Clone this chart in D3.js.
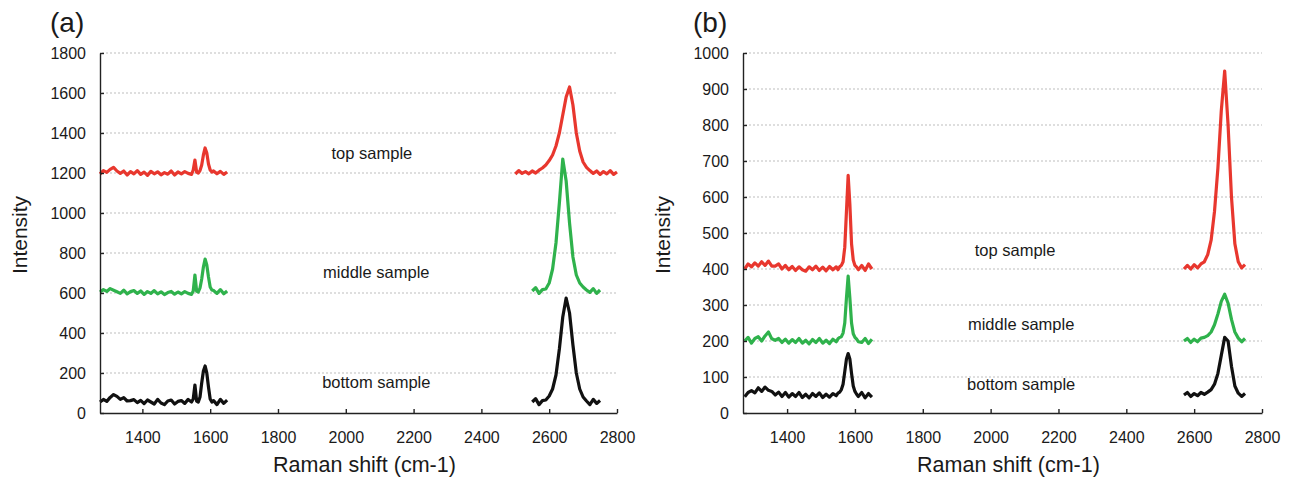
<!DOCTYPE html>
<html lang="en">
<head>
    <meta charset="UTF-8">
    <title>Raman spectra (a) and (b)</title>
    <script src="https://d3js.org/d3.v7.min.js"></script>
    <style>
        body { margin: 0; background: #fff; }
        svg text { font-family: "Liberation Sans", Arial, sans-serif; fill: #1a1a1a; }
        .grid line { stroke: #bdbdbd; stroke-width: 1; stroke-dasharray: 2,2; }
        .axis path, .axis line { stroke: #222; stroke-width: 1.4; }
        .axis text { font-size: 16px; }
    </style>
</head>
<body>
    <svg width="1292" height="477"></svg>

    <script>
        // tick labels
        const ticksX = [1400, 1600, 1800, 2000, 2200, 2400, 2600, 2800];
        const ticksYa = [0, 200, 400, 600, 800, 1000, 1200, 1400, 1600, 1800];
        const ticksYb = [0, 100, 200, 300, 400, 500, 600, 700, 800, 900, 1000];

        // x grid for the G band part (cm-1)
        const gX = [1275, 1285, 1295, 1305, 1315, 1325, 1335, 1345, 1355, 1365,
                    1375, 1385, 1395, 1405, 1415, 1425, 1435, 1445, 1455, 1465,
                    1475, 1485, 1495, 1505, 1515, 1525, 1535, 1545,
                    1550, 1555, 1560, 1565, 1570, 1575, 1580, 1585, 1590, 1595, 1600, 1605, 1610,
                    1620, 1630, 1640, 1650];
        // x grids for the 2D band part
        const dXwide = [2500, 2510, 2520, 2530, 2540, 2550, 2560, 2570, 2580, 2590, 2600,
                        2610, 2620, 2630, 2640, 2650, 2660, 2670, 2680, 2690, 2700,
                        2710, 2720, 2730, 2740, 2750, 2760, 2770, 2780, 2790, 2800];
        const dXmid = [2550, 2560, 2570, 2580, 2590, 2600, 2610, 2620, 2630, 2640, 2650,
                       2660, 2670, 2680, 2690, 2700, 2710, 2720, 2730, 2740, 2750];
        const dXb = [2570, 2580, 2590, 2600, 2610, 2620, 2630, 2640, 2650, 2660,
                     2670, 2680, 2690, 2700, 2710, 2720, 2730, 2740, 2750];

        // panel (a) intensities
        const aTopG = [1195, 1212, 1203, 1218, 1228, 1210, 1198, 1210, 1190, 1207,
                       1196, 1212, 1193, 1204, 1188, 1208, 1196, 1206, 1191, 1202,
                       1194, 1210, 1190, 1205, 1196, 1207, 1198, 1193,
                       1215, 1265, 1205, 1200, 1212, 1240, 1290, 1325, 1300, 1245, 1215, 1205, 1210,
                       1196, 1208, 1193, 1205];
        const aMidG = [605, 617, 608, 622, 614, 606, 598, 614, 596, 607,
                       612, 598, 610, 593, 607, 598, 612, 596, 606, 592,
                       602, 608, 594, 605, 596, 607, 598, 593,
                       610, 690, 610, 605, 625, 670, 730, 770, 740, 680, 630, 615, 612,
                       598, 617, 596, 610];
        const aBotG = [55, 68, 58, 78, 92, 83, 68, 77, 60, 62,
                       67, 52, 63, 47, 65, 55, 45, 68, 50, 42,
                       60, 65, 45, 58, 62, 48, 68, 55,
                       70, 140, 60, 55, 80, 150, 210, 235, 200, 130, 70, 55, 62,
                       42, 68, 48, 64];
        const aTop2D = [1195, 1212, 1198, 1207, 1196, 1210, 1200, 1214, 1225, 1240, 1262,
                        1290, 1335, 1400, 1490, 1580, 1630, 1540, 1400, 1310, 1255,
                        1228, 1212, 1198, 1210, 1193, 1207, 1196, 1212, 1193, 1205];
        const aMid2D = [610, 627, 598, 617, 620, 650, 720, 850, 1050, 1270, 1160,
                        950, 780, 690, 650, 630, 615, 603, 622, 598, 615];
        const aBot2D = [55, 72, 42, 62, 65, 85, 120, 190, 320, 480, 575,
                        500, 340, 200, 120, 80, 60, 42, 68, 48, 62];

        // panel (b) intensities
        const bTopG = [400, 414, 406, 417, 408, 420, 410, 422, 408, 408,
                       414, 400, 410, 398, 407, 396, 406, 398, 394, 406,
                       398, 408, 396, 405, 395, 407, 398, 406,
                       398, 406, 410, 420, 460, 560, 660, 580, 470, 425, 410, 405, 398,
                       410, 396, 414, 400];
        const bMidG = [200, 210, 194, 207, 212, 200, 214, 225, 206, 202,
                       207, 196, 205, 194, 204, 196, 207, 194, 202, 192,
                       204, 196, 207, 194, 202, 193, 205, 198,
                       206, 210, 212, 222, 250, 320, 380, 320, 250, 220, 210, 205, 198,
                       196, 207, 193, 205];
        const bBotG = [45, 57, 62, 56, 70, 60, 72, 63, 60, 50,
                       58, 46, 57, 44, 54, 46, 57, 43, 52, 42,
                       54, 46, 56, 43, 52, 44, 54, 48,
                       55, 58, 65, 80, 115, 150, 165, 150, 110, 75, 60, 52, 46,
                       57, 42, 54, 44];
        const bTop2D = [400, 410, 400, 412, 403, 414, 420, 440, 480, 560,
                        680, 840, 950, 800, 600, 470, 420, 403, 412];
        const bMid2D = [200, 207, 196, 205, 198, 208, 210, 215, 225, 245,
                        275, 310, 330, 305, 260, 225, 208, 198, 207];
        const bBot2D = [50, 57, 46, 54, 48, 57, 52, 58, 65, 80,
                        110, 160, 210, 200, 130, 75, 55, 46, 54];

        const red = "#e8372e", green = "#2fb24c", black = "#111111";

        const panels = [
            {
                tag: "(a)", tagX: 50, left: 100, right: 617, domX: [1275, 2800],
                domY: [0, 1800], ticksY: ticksYa,
                series: [
                    { x: gX, y: aTopG, c: red }, { x: dXwide, y: aTop2D, c: red },
                    { x: gX, y: aMidG, c: green }, { x: dXmid, y: aMid2D, c: green },
                    { x: gX, y: aBotG, c: black }, { x: dXmid, y: aBot2D, c: black }
                ],
                labels: [
                    { t: "top sample", x: 2077, y: 1270 },
                    { t: "middle sample", x: 2090, y: 675 },
                    { t: "bottom sample", x: 2090, y: 125 }
                ]
            },
            {
                tag: "(b)", tagX: 693, left: 743, right: 1262, domX: [1270, 2800],
                domY: [0, 1000], ticksY: ticksYb,
                series: [
                    { x: gX, y: bTopG, c: red }, { x: dXb, y: bTop2D, c: red },
                    { x: gX, y: bMidG, c: green }, { x: dXb, y: bMid2D, c: green },
                    { x: gX, y: bBotG, c: black }, { x: dXb, y: bBot2D, c: black }
                ],
                labels: [
                    { t: "top sample", x: 2072, y: 436 },
                    { t: "middle sample", x: 2090, y: 230 },
                    { t: "bottom sample", x: 2090, y: 64 }
                ]
            }
        ];

        const svg = d3.select("svg");
        const plotTop = 53, plotBottom = 413;
        const fmt = d3.format("d");

        panels.forEach(p => {
            const x = d3.scaleLinear().domain(p.domX).range([p.left, p.right]);
            const y = d3.scaleLinear().domain(p.domY).range([plotBottom, plotTop]);
            const g = svg.append("g");

            // dotted grid lines
            g.append("g").attr("class", "grid")
                .selectAll("line")
                .data(p.ticksY.filter(v => v > 0))
                .enter().append("line")
                .attr("x1", p.left + 2).attr("x2", p.right)
                .attr("y1", d => y(d)).attr("y2", d => y(d));

            // spectra
            const line = d3.line().x(d => x(d[0])).y(d => y(d[1]));
            p.series.forEach(s => {
                g.append("path")
                    .datum(d3.zip(s.x, s.y))
                    .attr("d", line)
                    .attr("fill", "none")
                    .attr("stroke", s.c)
                    .attr("stroke-width", 3.2)
                    .attr("stroke-linejoin", "round");
            });

            // axes
            const ax = g.append("g").attr("class", "axis")
                .attr("transform", `translate(0,${plotBottom})`)
                .call(d3.axisBottom(x).tickValues(ticksX).tickFormat(fmt)
                    .tickSizeInner(-4).tickSizeOuter(0).tickPadding(15));
            ax.selectAll("text").attr("dy", "0.95em");

            g.append("g").attr("class", "axis")
                .attr("transform", `translate(${p.left},0)`)
                .call(d3.axisLeft(y).tickValues(p.ticksY).tickFormat(fmt)
                    .tickSizeInner(-4).tickSizeOuter(0).tickPadding(14));

            // sample labels
            g.selectAll(".lab")
                .data(p.labels)
                .enter().append("text")
                .attr("x", d => x(d.x)).attr("y", d => y(d.y))
                .attr("text-anchor", "middle")
                .style("font-size", "16.5px")
                .text(d => d.t);

            // titles
            g.append("text")
                .attr("x", (p.left + p.right) / 2 + 6).attr("y", 472)
                .attr("text-anchor", "middle")
                .style("font-size", "21.5px")
                .text("Raman shift (cm-1)");

            g.append("text")
                .attr("transform", `translate(${p.left - 73},235) rotate(-90)`)
                .attr("text-anchor", "middle")
                .style("font-size", "21px")
                .text("Intensity");

            g.append("text")
                .attr("x", p.tagX).attr("y", 32)
                .style("font-size", "28px")
                .text(p.tag);
        });
    </script>
</body>
</html>
